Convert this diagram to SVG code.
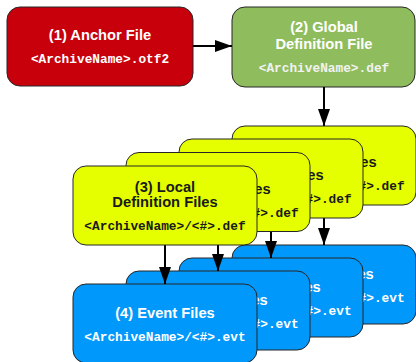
<svg xmlns="http://www.w3.org/2000/svg" width="416" height="362" viewBox="0 0 416 362">
<defs>
<marker id="ah" markerUnits="userSpaceOnUse" markerWidth="18" markerHeight="14" viewBox="0 0 18 14" refX="17" refY="7" orient="auto">
<path d="M0,1 L17,7 L0,13 Z" fill="#000"/>
</marker>
</defs>
<style>
.box{stroke:#262626;stroke-width:1}
.red{fill:#c8000b}
.green{fill:#8fbd5d}
.yellow{fill:#e5ff00}
.blue{fill:#0098fb}
.t{font-family:"Liberation Sans",Arial,sans-serif;font-weight:bold;font-size:14.7px;text-anchor:middle}
.m{font-family:"Liberation Mono","Courier New",monospace;font-weight:bold;font-size:12.8px;text-anchor:middle}
.w{fill:#fff}
.k{fill:#1a1a1a}
.c{stroke:#000;stroke-width:2;fill:none;marker-end:url(#ah)}
</style>
<rect width="416" height="362" fill="#fff"/>
<g id="anchor">
<rect class="box red" x="7" y="7" width="186" height="79" rx="13"/>
<text class="t w" x="100" y="40">(1) Anchor File</text>
<text class="m w" x="100" y="63">&lt;ArchiveName&gt;.otf2</text>
</g>
<g id="global">
<rect class="box green" x="232" y="7" width="183" height="80" rx="13"/>
<text class="t w" x="324" y="32">(2) Global</text>
<text class="t w" x="324" y="48.5">Definition File</text>
<text class="m w" x="324" y="72" style="fill:#f2f2f2">&lt;ArchiveName&gt;.def</text>
</g>
<g id="event4">
<rect class="box blue" x="232" y="245" width="184" height="79" rx="13"/>
<text class="t w" x="324" y="279">(4) Event Files</text>
<text class="m w" x="324" y="302">&lt;ArchiveName&gt;/&lt;#&gt;.evt</text>
</g>
<g id="event3">
<rect class="box blue" x="179" y="258" width="184" height="79" rx="13"/>
<text class="t w" x="271" y="292">(4) Event Files</text>
<text class="m w" x="271" y="315">&lt;ArchiveName&gt;/&lt;#&gt;.evt</text>
</g>
<g id="event2">
<rect class="box blue" x="126" y="271" width="184" height="79" rx="13"/>
<text class="t w" x="218" y="305">(4) Event Files</text>
<text class="m w" x="218" y="328">&lt;ArchiveName&gt;/&lt;#&gt;.evt</text>
</g>
<g id="event1">
<rect class="box blue" x="73" y="284" width="184" height="79" rx="13"/>
<text class="t w" x="165" y="318">(4) Event Files</text>
<text class="m w" x="165" y="341">&lt;ArchiveName&gt;/&lt;#&gt;.evt</text>
</g>
<g id="connectors">
<line class="c" x1="193" y1="46" x2="232" y2="46"/>
<line class="c" x1="324" y1="87" x2="324" y2="126"/>
<line class="c" x1="324" y1="205" x2="324" y2="245"/>
<line class="c" x1="271" y1="218" x2="271" y2="258"/>
<line class="c" x1="218" y1="231" x2="218" y2="271"/>
<line class="c" x1="165" y1="245" x2="165" y2="284"/>
</g>
<g id="local4">
<rect class="box yellow" x="232" y="126" width="184" height="79" rx="13"/>
<text class="t k" x="324" y="152">(3) Local</text>
<text class="t k" x="324" y="167">Definition Files</text>
<text class="m k" x="324" y="190">&lt;ArchiveName&gt;/&lt;#&gt;.def</text>
</g>
<g id="local3">
<rect class="box yellow" x="179" y="139" width="184" height="79" rx="13"/>
<text class="t k" x="271" y="165">(3) Local</text>
<text class="t k" x="271" y="180">Definition Files</text>
<text class="m k" x="271" y="203">&lt;ArchiveName&gt;/&lt;#&gt;.def</text>
</g>
<g id="local2">
<rect class="box yellow" x="126" y="152.5" width="184" height="79" rx="13"/>
<text class="t k" x="218" y="178.5">(3) Local</text>
<text class="t k" x="218" y="193.5">Definition Files</text>
<text class="m k" x="218" y="216.5">&lt;ArchiveName&gt;/&lt;#&gt;.def</text>
</g>
<g id="local1">
<rect class="box yellow" x="73" y="166" width="184" height="79" rx="13"/>
<text class="t k" x="165" y="192">(3) Local</text>
<text class="t k" x="165" y="207">Definition Files</text>
<text class="m k" x="165" y="230">&lt;ArchiveName&gt;/&lt;#&gt;.def</text>
</g>
</svg>
